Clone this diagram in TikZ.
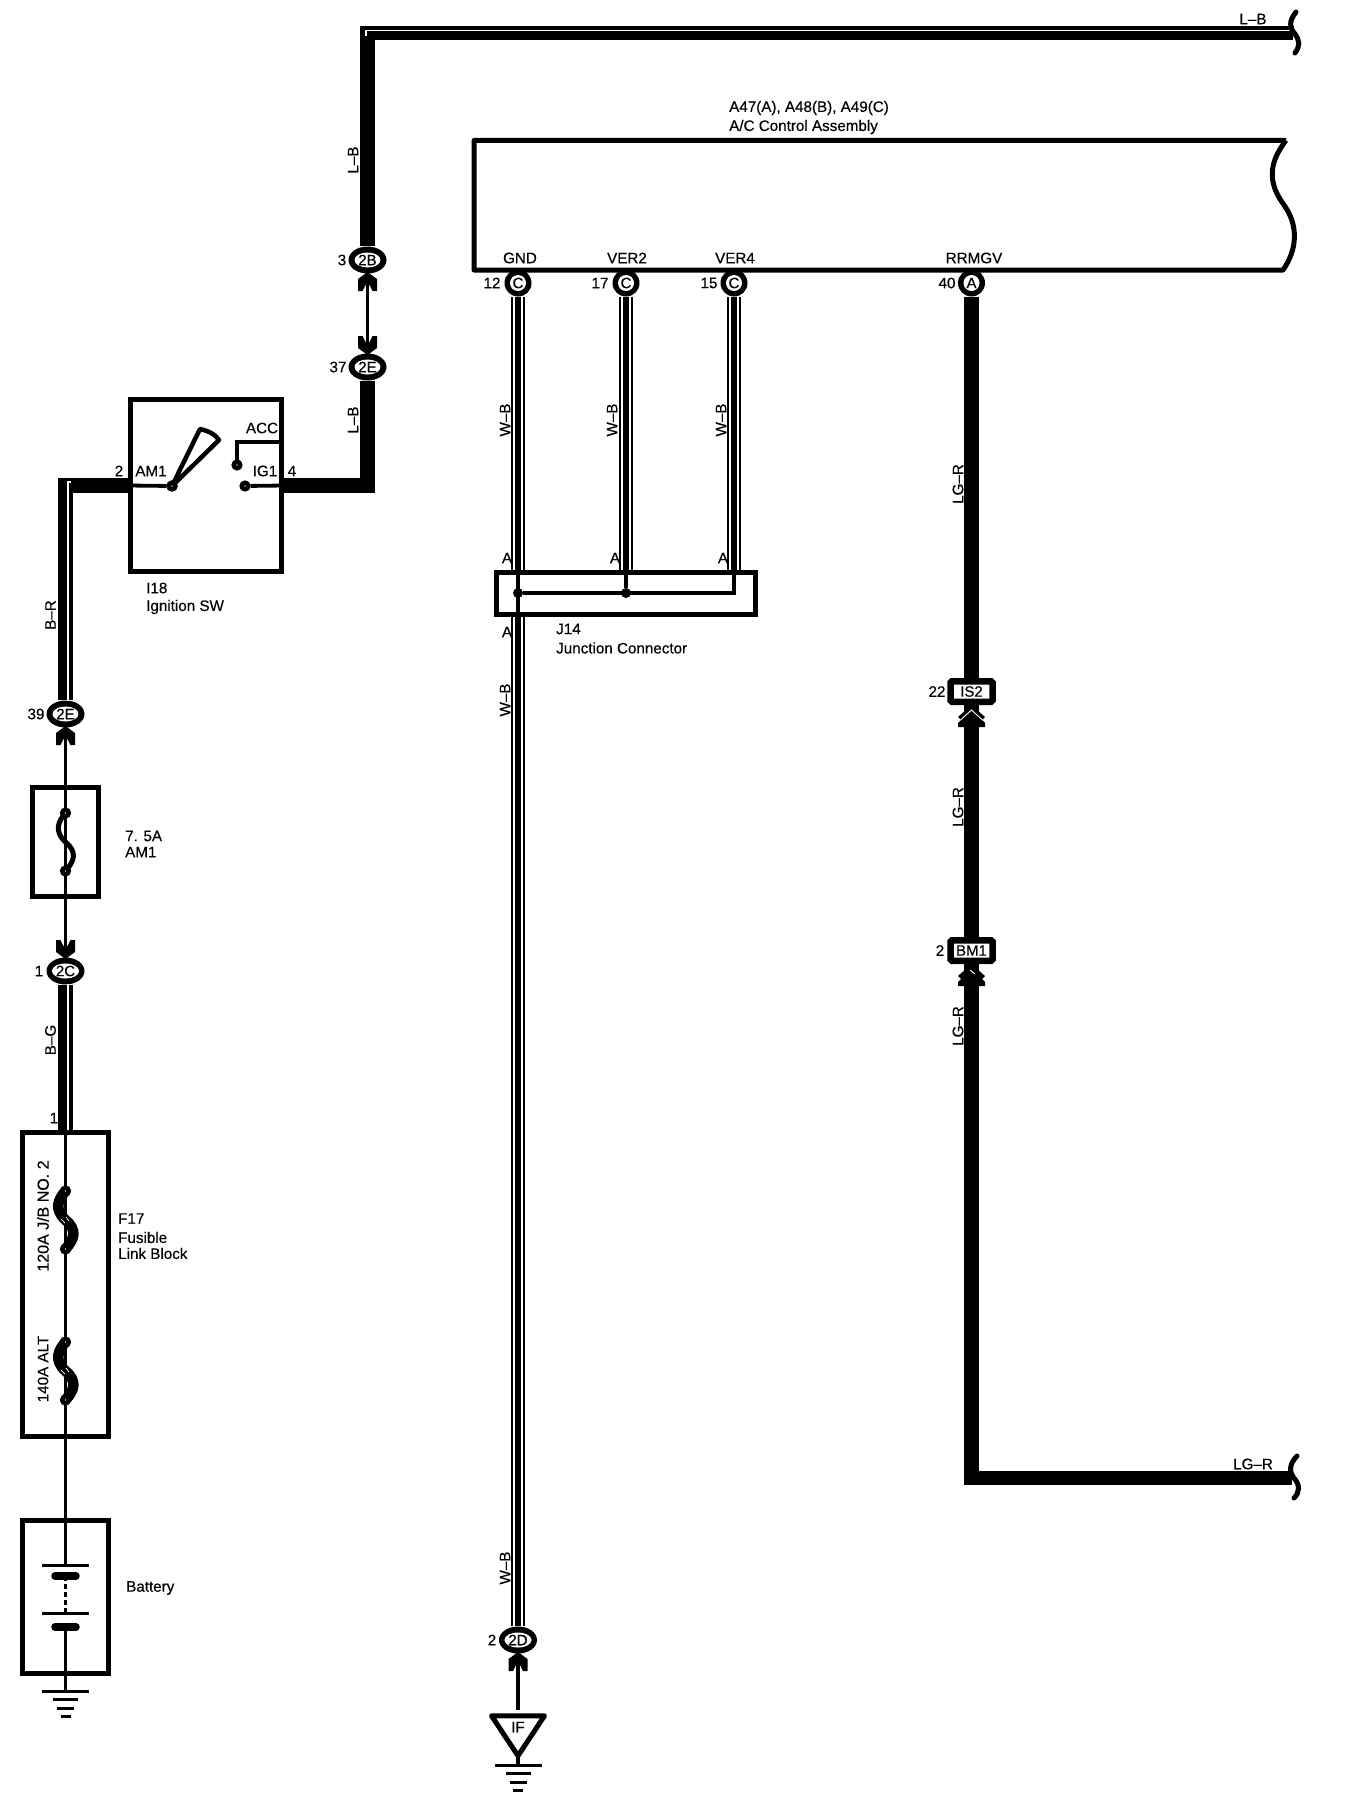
\documentclass[tikz,border=0pt]{standalone}
\usepackage{fontspec}
\setmainfont[FakeBold=0.35]{Liberation Sans}
\usetikzlibrary{shapes.geometric,calc}
\tikzset{
  fat/.style={line width=14.5pt,miter limit=10,line cap=butt},
  thinw/.style={line width=3.8pt},
  stripe/.style={white,line width=1.1pt},
  box/.style={rectangle,draw,line width=5pt,inner sep=0pt},
  lab/.style={inner sep=0pt,font=\fontsize{15.2}{15.2}\selectfont},
  labl/.style={lab,anchor=west},
  labv/.style={lab,rotate=90},
  connout/.style={ellipse,fill=black,minimum width=38pt,minimum height=27pt,inner sep=0pt},
  connin/.style={ellipse,fill=white,minimum width=25pt,minimum height=15pt,inner sep=0pt,font=\fontsize{15}{15}\selectfont},
  roundout/.style={circle,fill=black,minimum size=27pt,inner sep=0pt},
  roundin/.style={circle,fill=white,minimum size=16pt,inner sep=0pt,font=\fontsize{15}{15}\selectfont},
  rectconn/.style={rectangle,draw,fill=white,line width=6.5pt,rounded corners=1.5pt,minimum width=42pt,minimum height=20.5pt,inner sep=0pt,font=\fontsize{15}{15}\selectfont},
  term/.style={circle,draw,fill=white,line width=4.5pt,minimum size=6.5pt,inner sep=0pt},
  dotj/.style={circle,fill=black,minimum size=10pt,inner sep=0pt},
  brace/.style={line width=5pt,line cap=round},
  plate/.style={line width=3pt},
  thickplate/.style={line width=7.5pt,line cap=round},
}
\newcommand{\conn}[4]{\node[connout] (#1) at (#2,#3) {}; \node[connin] (#1t) at (#1) {#4};}
\newcommand{\connr}[4]{\node[roundout] (#1) at (#2,#3) {}; \node[roundin] (#1t) at (#1) {#4};}
\newcommand{\chev}[3]{\fill[shift={(#1,#2)},yscale=#3] (0,0) -- (-9.5,7) -- (-9.5,19) -- (-5,19) -- (-2,13) -- (2,13) -- (5,19) -- (9.5,19) -- (9.5,7) -- cycle;}
\newcommand{\dchev}[3]{\fill[shift={(#1,#2)}] (0,0) -- (13.5,12) -- (10.5,15) -- (13.5,18) -- (13.5,22) -- (-13.5,22) -- (-13.5,18) -- (-10.5,15) -- (-13.5,12) -- cycle;}
\newcommand{\fusecurve}[4]{\draw[line width=#4,line cap=round] (#1,#2) .. controls (#1-7,#2+8) and (#1-12,#2+18) .. (#1,#2+#3/2) .. controls (#1+12,#2+#3/2+10) and (#1+9,#2+#3-10) .. (#1,#2+#3);}
\newcommand{\groundsym}[2]{%
  \draw[plate] (#1-23.5,#2) -- (#1+23.5,#2);
  \draw[line width=3pt] (#1-12.5,#2+8.5) -- (#1+12.5,#2+8.5);
  \draw[line width=3pt] (#1-8.5,#2+17) -- (#1+8.5,#2+17);
  \draw[line width=3pt] (#1-5,#2+25) -- (#1+5,#2+25);}
\newcommand{\wbwire}[2]{%
  \draw[line width=1.8pt] ([xshift=-6.2pt]#1) -- ([xshift=-6.2pt]#1 |- #2);
  \draw[line width=5.6pt] ([xshift=-0.2pt]#1) -- ([xshift=-0.2pt]#1 |- #2);
  \draw[line width=1.8pt] ([xshift=5.6pt]#1) -- ([xshift=5.6pt]#1 |- #2);}
\begin{document}
\begin{tikzpicture}[x=1pt,y=-1pt]
\useasboundingbox (0,0) rectangle (1344,1814);
\fill[white] (0,0) rectangle (1344,1814);

% ---------- nodes
\node[box,minimum width=151pt,minimum height=172pt] (ign) at (206,485.5) {};
\node[box,minimum width=66pt,minimum height=109pt] (fuseam) at (65.5,842) {};
\node[box,minimum width=86pt,minimum height=304pt] (f17) at (65.5,1284) {};
\node[box,minimum width=86pt,minimum height=152.5pt] (batt) at (65.5,1597) {};
\node[box,minimum width=259pt,minimum height=42pt] (j14) at (625.5,593.5) {};

\conn{cB}{367.5}{260}{2B}
\conn{cE}{367.5}{367}{2E}
\conn{cEl}{65.5}{714}{2E}
\conn{cC}{65.5}{971}{2C}
\conn{cD}{518}{1640}{2D}
\connr{cOne}{518}{283}{C}
\connr{cTwo}{626}{283}{C}
\connr{cThree}{734}{283}{C}
\connr{cA}{971.5}{283}{A}
\node[rectconn] (isb) at (971.5,691.5) {IS2};
\node[rectconn] (bmo) at (971.5,950.5) {BM1};

\coordinate (endLB) at (1293,33);
\coordinate (endLG) at (1292,1478);
\coordinate (gndB) at (65.5,1691);
\coordinate (ifTop) at (518,1710);
\coordinate (ifTip) at (518,1754);
\coordinate (gndI) at (518,1765);

% ---------- A/C control assembly
\draw[line width=5pt,line join=round] (1286,140.5) -- (474,140.5) -- (474,270) -- (1283,270)
  .. controls (1297,250) and (1299,226) .. (1284,205)
  .. controls (1270,186) and (1266,166) .. (1286,140.5);

% ---------- heavy wires
\draw[fat] (cB.north) -- (cB.north |- endLB) -- (endLB);
\draw[stripe] (366,36) -- (366,30.5) -- (1290,30.5);
\draw[brace] (1296,12) .. controls (1288,22) and (1290,28) .. (1295,34) .. controls (1300,41) and (1300,46) .. (1295,53);
\draw[fat] (ign.east) -| (cE.south);
\draw[fat] (ign.west) -| (cEl.north);
\draw[stripe] (71,482) -- (68,482) -- (68,701);
\draw[fat] (cC.south) -- (cC.south |- f17.north);
\draw[stripe] (68,984) -- (68,1130);
\draw[fat] (cA.south) -- (isb.north);
\draw[fat] (isb.south) -- (bmo.north);
\draw[fat] (bmo.south) -- (bmo.south |- endLG) -- (endLG);
\draw[brace] (1297,1456) .. controls (1289,1464) and (1289,1472) .. (1294,1478) .. controls (1300,1485) and (1300,1492) .. (1294,1498);

% ---------- W-B wires
\wbwire{cOne.south}{j14.north}
\wbwire{cTwo.south}{j14.north}
\wbwire{cThree.south}{j14.north}
\wbwire{cOne.south |- j14.south}{cD.north}

% ---------- thin wires
\draw[thinw] (cB.south) -- (cE.north);
\draw[thinw] (cEl.south) -- (fuseam.north);
\draw[thinw] (fuseam.north) -- (fuseam.south);
\draw[thinw] (fuseam.south) -- (cC.north);
\draw[thinw] (f17.north) -- (f17.south);
\draw[thinw] (f17.south) -- (batt.north);
\draw[thinw] (batt.north) -- (65.5,1565);
\draw[thinw,dash pattern=on 5pt off 3pt] (65.5,1576) -- (65.5,1613);
\draw[thinw] (65.5,1627) -- (gndB);
\draw[thinw] (cD.south) -- (ifTop);
\draw[thinw] (ifTip) -- (gndI);

% ---------- chevrons
\chev{367.5}{272}{1}
\chev{367.5}{355}{-1}
\chev{65.5}{726}{1}
\chev{65.5}{959}{-1}
\chev{518}{1652}{1}
\dchev{971.5}{705}{1}
\draw[white,line width=0.9pt] (960.5,720) -- (971.5,710) -- (982.5,720);
\dchev{971.5}{964}{1}
\draw[white,line width=0.9pt] (970,970) -- (975,974);
\draw[fat] (971.5,986) -- (971.5,990);

% ---------- ignition switch
\node[term] (pivot) at (172,486) {};
\node[term] (accT) at (237,465) {};
\node[term] (igT) at (245,486) {};
\draw[thinw] (ign.west) -- (pivot);
\draw[thinw] (ign.east) -- (igT);
\draw[thinw] (ign.east |- 0,442) -- (accT.north |- 0,442) -- (accT.north);
\draw[line width=4.5pt,line join=round] (pivot.center) -- (200,429) .. controls (209,431) and (216,435) .. (219,440) -- cycle;
\node[term] (pivotb) at (172,486) {};

% ---------- fuses
\fusecurve{65.5}{813}{58}{5pt}
\node[term] (amA) at (65.5,813) {};
\node[term] (amB) at (65.5,871) {};
\fusecurve{65.5}{1191}{58}{10.5pt}
\node[term] (jbA) at (65.5,1191) {};
\node[term] (jbB) at (65.5,1249) {};
\draw[white,line width=0.7pt] (61,1219) -- (65,1223) (66,1217) -- (69,1221);
\fusecurve{65.5}{1342}{58}{10.5pt}
\node[term] (altA) at (65.5,1342) {};
\node[term] (altB) at (65.5,1400) {};
\draw[white,line width=0.7pt] (61,1370) -- (65,1374) (66,1368) -- (69,1372);

% ---------- battery
\draw[plate] (42,1565) -- (89,1565);
\draw[thickplate] (55,1576) -- (76,1576);
\draw[plate] (42,1613) -- (89,1613);
\draw[thickplate] (55,1627) -- (76,1627);
\groundsym{65.5}{1691}

% ---------- IF ground
\node[isosceles triangle,shape border rotate=-90,isosceles triangle stretches,draw,fill=white,line width=5pt,minimum width=53pt,minimum height=40pt,inner sep=0pt,line join=round] (iftri) at (518,1730) {};
\node[lab] (iftxt) at (518,1727) {IF};
\groundsym{518}{1765}

% ---------- junction inside
\node[dotj] (jd1) at (518,593) {};
\node[dotj] (jd2) at (626,593) {};
\draw[thinw] (j14.north -| jd1) -- (j14.south -| jd1);
\draw[thinw] (j14.north -| jd2) -- (jd2);
\draw[thinw] (jd1) -- (734,593) -- (j14.north -| cThree);

% ---------- texts
\node[lab] (tLBt) at (1253,19) {L–B};
\node[lab] (tLGe) at (1253,1464) {LG–R};
\node[labv] (tLB1) at (353,160) {L–B};
\node[labv] (tLB2) at (353,420) {L–B};
\node[labv] (tBR) at (50.5,615) {B–R};
\node[labv] (tBG) at (50.5,1040) {B–G};
\node[labv] (tWB1) at (505,420) {W–B};
\node[labv] (tWB2) at (612,420) {W–B};
\node[labv] (tWB3) at (721,420) {W–B};
\node[labv] (tWB4) at (505,700) {W–B};
\node[labv] (tWB5) at (505,1568) {W–B};
\node[labv] (tLG1) at (958,484) {LG–R};
\node[labv] (tLG2) at (958,807) {LG–R};
\node[labv] (tLG3) at (958,1026) {LG–R};
\node[labv,font=\fontsize{16}{16}\selectfont] (t120) at (43,1216) {120A J/B NO. 2};
\node[labv] (t140) at (43,1369) {140A ALT};

\node[labl] (tA47) at (729,108) {A47(A), A48(B), A49(C)};
\node[labl] (tAC) at (729,127) {A/C Control Assembly};
\node[lab] (tGND) at (520,258) {GND};
\node[lab] (tV2) at (627,258) {VER2};
\node[lab] (tV4) at (735,258) {VER4};
\node[lab] (tRR) at (974,258) {RRMGV};
\node[lab] (n12) at (492,283) {12};
\node[lab] (n17) at (600,283) {17};
\node[lab] (n15) at (709,283) {15};
\node[lab] (n40) at (947,283) {40};
\node[lab] (n3) at (342,260) {3};
\node[lab] (n37) at (338,367) {37};
\node[lab] (n39) at (36,714) {39};
\node[lab] (n1c) at (39,971) {1};
\node[lab] (n1f) at (54,1118) {1};
\node[lab] (n2d) at (492,1640) {2};
\node[lab] (n22) at (937,691.5) {22};
\node[lab] (n2b) at (940,950.5) {2};
\node[lab] (n2i) at (119,471) {2};
\node[lab] (n4i) at (292,471) {4};
\node[lab] (tAM) at (151,471) {AM1};
\node[lab] (tACC) at (262,428) {ACC};
\node[lab] (tIG) at (265,471) {IG1};
\node[labl] (tI18) at (146,588) {I18};
\node[labl] (tIgn) at (146,607) {Ignition SW};
\node[labl] (t75) at (125,836) {7. 5A};
\node[labl] (tAMb) at (125,852) {AM1};
\node[labl] (tF17) at (118,1218.5) {F17};
\node[labl] (tFus) at (118,1237.5) {Fusible};
\node[labl] (tLink) at (118,1253.5) {Link Block};
\node[labl] (tBat) at (126,1588) {Battery};
\node[lab] (tAa) at (507,558) {A};
\node[lab] (tAb) at (615,558) {A};
\node[lab] (tAc) at (723,558) {A};
\node[lab] (tAd) at (507,632) {A};
\node[labl] (tJ14) at (556,629) {J14};
\node[labl] (tJC) at (556,648) {Junction Connector};
\end{tikzpicture}
\end{document}
